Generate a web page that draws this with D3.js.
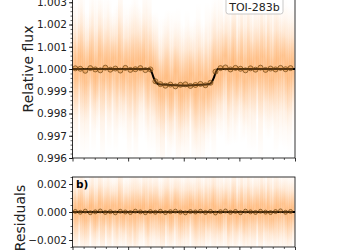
<!DOCTYPE html>
<html><head><meta charset="utf-8">
<script src="https://cdn.jsdelivr.net/npm/d3@7"></script>
<style>body{margin:0;background:#fff}svg{display:block;font-family:"DejaVu Sans",sans-serif}</style>
</head><body><svg id="c" width="350" height="250"></svg>
<script>
// ---- data (time from mid-transit, hours) ----
const modelTime = [-4,-1.22,-1.15,-1.08,-1.0,-0.93,-0.6,-0.3,0,0.3,0.6,0.93,1.0,1.08,1.15,1.22,4];
const modelFlux = [1.0,1.0,0.99985,0.9996,0.9994,0.99933,0.99929,0.99927,0.99926,0.99927,0.99929,0.99933,0.9994,0.9996,0.99985,1.0,1.0];

const binTime = [-3.9,-3.72,-3.54,-3.36,-3.18,-3.0,-2.82,-2.64,-2.46,-2.28,-2.1,-1.92,-1.74,-1.56,-1.38,-1.2,-1.02,-0.84,-0.66,-0.48,-0.3,-0.12,0.06,0.24,0.42,0.6,0.78,0.96,1.14,1.32,1.5,1.68,1.86,2.04,2.22,2.4,2.58,2.76,2.94,3.12,3.3,3.48,3.66,3.84];
const binFlux = [1.00003,1.00001,0.99992,1.00004,0.99998,0.99994,1.00006,0.99997,1.00002,0.99993,1.00005,0.99996,0.99999,1.00004,0.99995,0.99998,0.99945,0.99932,0.99925,0.9993,0.99922,0.99929,0.99931,0.99924,0.99928,0.99933,0.99927,0.99938,0.99988,1.00004,1.00007,0.99998,1.00005,1.00001,0.99994,1.00003,0.99997,1.00006,0.99996,1.00002,0.99998,1.00005,0.99999,1.00004];
const binResid = [0.00004,-0.00002,0.00006,-0.00005,0.00001,0.00007,-0.00003,0.00002,-0.00006,0.00005,0.0,-0.00004,0.00006,0.00001,-0.00005,0.00003,-0.00002,0.00005,-0.00004,0.00002,0.00006,-0.00001,-0.00006,0.00003,0.0,0.00005,-0.00003,0.00004,-0.00007,0.00002,0.00007,-0.00002,0.00004,-0.00005,0.00006,0.00001,-0.00003,0.00005,-0.00001,-0.00004,0.00003,0.00008,-0.00002,0.00004];

const rawTime = [-3.96,-3.88,-3.80,-3.72,-3.64,-3.56,-3.48,-3.40,-3.32,-3.24,-3.16,-3.08,-3.00,-2.92,-2.84,-2.76,-2.68,-2.60,-2.52,-2.44,-2.36,-2.28,-2.20,-2.12,-2.04,-1.96,-1.88,-1.80,-1.72,-1.64,-1.56,-1.48,-1.40,-1.32,-1.24,-1.16,-1.08,-1.00,-0.92,-0.84,-0.76,-0.68,-0.60,-0.52,-0.44,-0.36,-0.28,-0.20,-0.12,-0.04,0.04,0.12,0.20,0.28,0.36,0.44,0.52,0.60,0.68,0.76,0.84,0.92,1.00,1.08,1.16,1.24,1.32,1.40,1.48,1.56,1.64,1.72,1.80,1.88,1.96,2.04,2.12,2.20,2.28,2.36,2.44,2.52,2.60,2.68,2.76,2.84,2.92,3.00,3.08,3.16,3.24,3.32,3.40,3.48,3.56,3.64,3.72,3.80,3.88,3.96];
const rawFlux = [1.00031,0.99958,1.00012,1.00055,0.99982,1.00004,0.99939,1.00027,1.00046,0.99991,0.99965,1.00019,1.00062,0.99949,1.00008,1.00038,0.99976,0.99997,1.00049,0.99956,1.00016,1.00058,0.99971,0.99988,1.00033,0.99943,1.00021,1.00007,0.99961,1.00044,0.99985,1.00026,1.00052,0.99953,1.00002,1.00016,0.99939,0.99999,0.99899,0.99941,0.99876,0.99957,0.9997,0.99922,0.99889,0.99944,0.9999,0.999,0.99935,0.99878,0.99961,0.99912,0.99949,0.99979,0.99886,0.99933,0.99909,0.99976,0.99871,0.99943,0.99959,0.99896,0.99996,0.99952,1.00019,0.99955,1.00018,0.99973,1.00061,1.00003,0.99951,1.00024,1.00043,0.99984,0.99968,1.00051,1.0001,0.99945,1.00037,0.99996,1.0002,0.99957,1.00048,1.00014,0.9997,1.00057,0.99977,1.00005,1.00034,0.99948,1.00025,0.99989,1.00045,0.99963,1.0006,0.9998,1.00015,0.99954,1.00032,0.99993];
const rawResid = [0.00031,-0.00042,0.00012,0.00055,-0.00018,0.00004,-0.00061,0.00027,0.00046,-0.00009,-0.00035,0.00019,0.00062,-0.00051,0.00008,0.00038,-0.00024,-0.00003,0.00049,-0.00044,0.00016,0.00058,-0.00029,-0.00012,0.00033,-0.00057,0.00021,0.00007,-0.00039,0.00044,-0.00015,0.00026,0.00052,-0.00047,0.00002,0.00036,-0.00021,0.00059,-0.00033,0.00011,-0.00054,0.00028,0.00041,-0.00006,-0.00038,0.00017,0.00064,-0.00026,0.00009,-0.00048,0.00035,-0.00014,0.00023,0.00053,-0.00041,0.00006,-0.00019,0.00047,-0.00058,0.00013,0.00029,-0.00036,0.00056,-0.00008,0.00039,-0.00045,0.00018,-0.00027,0.00061,0.00003,-0.00049,0.00024,0.00043,-0.00016,-0.00032,0.00051,0.0001,-0.00055,0.00037,-0.00004,0.0002,-0.00043,0.00048,0.00014,-0.0003,0.00057,-0.00023,0.00005,0.00034,-0.00052,0.00025,-0.00011,0.00045,-0.00037,0.0006,-0.0002,0.00015,-0.00046,0.00032,-0.00007];
const rawErr = [0.0024,0.0031,0.0020,0.0027,0.0034,0.0022,0.0029,0.0019,0.0026,0.0032,0.0021,0.0028,0.0024,0.0033,0.0020,0.0026,0.0030,0.0023,0.0018,0.0029,0.0025,0.0032,0.0021,0.0027,0.0019,0.0031,0.0024,0.0028,0.0034,0.0022,0.0026,0.0020,0.0030,0.0025,0.0033,0.0021,0.0027,0.0023,0.0029,0.0019,0.0032,0.0024,0.0026,0.0030,0.0022,0.0028,0.0020,0.0033,0.0025,0.0027,0.0021,0.0031,0.0024,0.0019,0.0029,0.0026,0.0034,0.0022,0.0028,0.0023,0.0030,0.0020,0.0025,0.0032,0.0027,0.0021,0.0029,0.0024,0.0018,0.0031,0.0026,0.0022,0.0033,0.0028,0.0020,0.0025,0.0030,0.0023,0.0027,0.0032,0.0019,0.0029,0.0024,0.0021,0.0034,0.0026,0.0022,0.0028,0.0031,0.0020,0.0025,0.0033,0.0023,0.0027,0.0019,0.0030,0.0024,0.0029,0.0021,0.0026];

const topTicks = [0.996,0.997,0.998,0.999,1.000,1.001,1.002,1.003];
const topTickLabels = ["0.996","0.997","0.998","0.999","1.000","1.001","1.002","1.003"];
const resTicks = [-0.002,0.000,0.002];
const resTickLabels = ["\u22120.002","0.000","0.002"];
const xMajor = [-4,-2,0,2,4];
const planetName = "TOI-283b";

// ---- layout ----
const svg = d3.select("#c");
const L = 72.5, R = 295;
const x = d3.scaleLinear().domain([-4,4]).range([L,R]);
const yT = d3.scaleLinear().domain([0.996,1.004]).range([158,-20]);
const yB = d3.scaleLinear().domain([-0.0025,0.0025]).range([247,177]);
const ORANGE = "#ff7f0e";

const defs = svg.append("defs");
const g = defs.append("linearGradient").attr("id","glow").attr("x1",0).attr("x2",0).attr("y1",0).attr("y2",1);
[[0,0],[0.12,0.03],[0.25,0.09],[0.37,0.2],[0.5,0.3],[0.63,0.2],[0.75,0.09],[0.88,0.03],[1,0]].forEach(([o,a])=>
  g.append("stop").attr("offset",o).attr("stop-color",ORANGE).attr("stop-opacity",a));
defs.append("clipPath").attr("id","clipT").append("rect").attr("x",L).attr("y",-20).attr("width",R-L).attr("height",178);
defs.append("clipPath").attr("id","clipB").append("rect").attr("x",L).attr("y",177).attr("width",R-L).attr("height",70);

const raw = rawTime.map((t,i)=>({t, f:rawFlux[i], r:rawResid[i], e:rawErr[i]}));
const bins = binTime.map((t,i)=>({t, f:binFlux[i], r:binResid[i]}));
const model = modelTime.map((t,i)=>({t, f:modelFlux[i]}));

function panel(y, key, clipId, modelData, lineKey, rad){
  const gp = svg.append("g").attr("clip-path",`url(#${clipId})`);
  gp.selectAll("rect.raw").data(raw).join("rect").attr("class","raw")
    .attr("x",d=>x(d.t)-2.4).attr("width",4.8)
    .attr("y",d=>y(d[key]+d.e*1.15)).attr("height",d=>y(d[key]-d.e*1.15)-y(d[key]+d.e*1.15))
    .attr("fill","url(#glow)");
  gp.append("path").datum(modelData)
    .attr("d",d3.line().x(d=>x(d.t)).y(d=>y(d[lineKey])).curve(d3.curveMonotoneX))
    .attr("fill","none").attr("stroke","#000").attr("stroke-width",2);
  gp.selectAll("circle.bin").data(bins).join("circle").attr("class","bin")
    .attr("cx",d=>x(d.t)).attr("cy",d=>y(d[key])).attr("r",rad)
    .attr("fill","rgba(210,130,45,0.4)").attr("stroke","rgba(105,65,15,0.85)").attr("stroke-width",0.8);
  return gp;
}
panel(yT,"f","clipT",model,"f",2.5);
panel(yB,"r","clipB",[{t:-4,z:0},{t:4,z:0}],"z",2.0);

// axes
function yAxis(y, ticks, labels, minorStep, dom){
  const ax = svg.append("g").attr("transform",`translate(${L},0)`);
  ax.call(d3.axisLeft(y).tickValues(ticks).tickFormat((d,i)=>labels[i]).tickSize(3.5).tickPadding(2))
    .call(a=>a.select(".domain").remove());
  ax.selectAll("text").attr("font-size",10.5).attr("font-family","DejaVu Sans").attr("fill","#222");
  ax.selectAll("line").attr("stroke","#000").attr("stroke-width",0.8);
  const minors = d3.range(Math.round(dom[0]/minorStep), Math.round(dom[1]/minorStep)+1).map(k=>k*minorStep);
  const mg = svg.append("g").attr("transform",`translate(${L},0)`);
  mg.call(d3.axisLeft(y).tickValues(minors).tickFormat("").tickSize(2))
    .call(a=>a.select(".domain").remove());
  mg.selectAll("line").attr("stroke","#000").attr("stroke-width",0.6);
}
yAxis(yT, topTicks, topTickLabels, 0.0002, [0.996,1.004]);
yAxis(yB, resTicks, resTickLabels, 0.0005, [-0.0025,0.0025]);

function xAxis(yPos){
  const a1 = svg.append("g").attr("transform",`translate(0,${yPos})`);
  a1.call(d3.axisBottom(x).tickValues(xMajor).tickFormat("").tickSize(3.5)).call(a=>a.select(".domain").remove());
  a1.selectAll("line").attr("stroke","#000").attr("stroke-width",0.8);
  const minors = d3.range(-10,11).map(k=>k*0.4).filter(v=>!xMajor.some(m=>Math.abs(m-v)<1e-6));
  const a2 = svg.append("g").attr("transform",`translate(0,${yPos})`);
  a2.call(d3.axisBottom(x).tickValues(minors).tickFormat("").tickSize(2)).call(a=>a.select(".domain").remove());
  a2.selectAll("line").attr("stroke","#000").attr("stroke-width",0.6);
}
xAxis(158); xAxis(247);

// frames
svg.append("rect").attr("x",L).attr("y",-20).attr("width",R-L).attr("height",178).attr("fill","none").attr("stroke","#000").attr("stroke-width",0.8);
svg.append("rect").attr("x",L).attr("y",177).attr("width",R-L).attr("height",70).attr("fill","none").attr("stroke","#000").attr("stroke-width",0.8);

// labels
svg.append("text").attr("transform","translate(33,69) rotate(-90)").attr("text-anchor","middle")
  .attr("font-size",14).attr("fill","#222").text("Relative flux");
svg.append("text").attr("transform","translate(25,218) rotate(-90)").attr("text-anchor","middle")
  .attr("font-size",14).attr("fill","#222").text("Residuals");
svg.append("text").attr("x",76).attr("y",188).attr("font-size",10.5).attr("font-weight","bold").attr("fill","#000").text("b)");

// planet box
const tb = svg.append("g");
tb.append("rect").attr("x",226).attr("y",-6).attr("width",57).attr("height",20).attr("rx",2.5)
  .attr("fill","#fff").attr("fill-opacity",0.85).attr("stroke","#bbb").attr("stroke-width",0.8);
tb.append("text").attr("x",254.5).attr("y",10.5).attr("text-anchor","middle").attr("font-size",11).attr("fill","#222").text(planetName);
</script></body></html>
